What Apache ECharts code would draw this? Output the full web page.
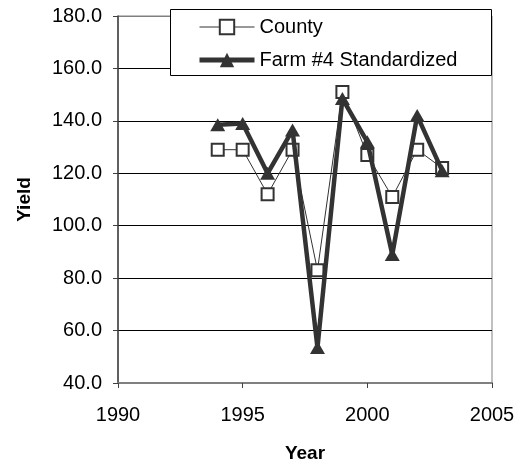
<!DOCTYPE html>
<html>
<head>
<meta charset="utf-8">
<script src="https://cdn.jsdelivr.net/npm/echarts@6/dist/echarts.min.js"></script>
<style>
  html, body { margin: 0; padding: 0; background: #fff; }
  #chart { width: 526px; height: 462px; }
</style>
</head>
<body>
<div id="chart"></div>
<script>
var years = [1994, 1995, 1996, 1997, 1998, 1999, 2000, 2001, 2002, 2003];
var county = [129, 129, 112, 129, 83, 151, 127, 111, 129, 122];
var farm = [138.5, 139, 120, 136.5, 53.5, 148.5, 132, 89, 142, 121];
var seriesNames = ['County', 'Farm #4 Standardized'];

function pairs(vals) {
	var out = [];
	for (var i = 0; i < years.length; i++) {
		out.push([years[i], vals[i]]);
	}
	return out;
}

var font = '"Liberation Sans", Arial, sans-serif';

var option = {
	animation: false,
	backgroundColor: '#fff',
	textStyle: { fontFamily: font },
	grid: {
		left: 118,
		right: 34,
		top: 16,
		bottom: 79,
		outerBoundsMode: 'none',
		containLabel: false,
		show: true,
		borderColor: '#808080',
		borderWidth: 1
	},
	graphic: [{
		type: 'rect',
		z: 10,
		shape: { x: 170.5, y: 9.5, width: 321, height: 66 },
		style: { fill: '#fff', stroke: '#000', lineWidth: 1 }
	}],
	legend: {
		z: 20,
		orient: 'vertical',
		left: 170,
		top: 17,
		padding: [0, 0, 0, 27],
		itemWidth: 55,
		itemHeight: 18,
		itemGap: 13,
		textStyle: { fontSize: 20, color: '#000', fontFamily: font },
		data: [
			{ name: seriesNames[0], lineStyle: { width: 1, color: '#333' } },
			{ name: seriesNames[1], lineStyle: { width: 5, color: '#333' } }
		]
	},
	xAxis: {
		type: 'value',
		min: 1990,
		max: 2005,
		interval: 5,
		name: 'Year',
		nameLocation: 'middle',
		nameGap: 61,
		nameTextStyle: { fontSize: 19, fontWeight: 'bold', color: '#000', fontFamily: font },
		axisLine: { show: true, onZero: false, lineStyle: { color: '#808080', width: 2 } },
		axisTick: { show: true, inside: false, length: 5, lineStyle: { color: '#404040' } },
		axisLabel: {
			fontSize: 20, color: '#000', margin: 22, fontFamily: font,
			formatter: function (v) { return String(v); }
		},
		splitLine: { show: false }
	},
	yAxis: {
		type: 'value',
		min: 40,
		max: 180,
		interval: 20,
		name: 'Yield',
		nameLocation: 'middle',
		nameGap: 84,
		nameRotate: 90,
		nameTextStyle: { fontSize: 19, fontWeight: 'bold', color: '#000', fontFamily: font },
		axisLine: { show: true, lineStyle: { color: '#404040', width: 1.5 } },
		axisTick: { show: true, inside: false, length: 5, lineStyle: { color: '#404040' } },
		axisLabel: {
			fontSize: 20, color: '#000', margin: 16, fontFamily: font,
			formatter: function (v) { return v.toFixed(1); }
		},
		splitLine: {
			show: true,
			lineStyle: { color: ['#000', '#000', '#000', '#000', '#000', '#000', '#000', '#808080'], width: 1 }
		}
	},
	series: [{
		name: seriesNames[0],
		type: 'line',
		data: pairs(county),
		symbol: 'rect',
		symbolSize: 12,
		color: '#333',
		lineStyle: { color: '#333', width: 1 },
		itemStyle: { color: '#fff', borderColor: '#333', borderWidth: 2 },
		z: 3
	}, {
		name: seriesNames[1],
		type: 'line',
		data: pairs(farm),
		symbol: 'triangle',
		symbolSize: [15, 13],
		color: '#333',
		lineStyle: { color: '#333', width: 4.5 },
		itemStyle: { color: '#333' },
		z: 4
	}]
};

var myChart = echarts.init(document.getElementById('chart'));
myChart.setOption(option);
</script>
</body>
</html>
